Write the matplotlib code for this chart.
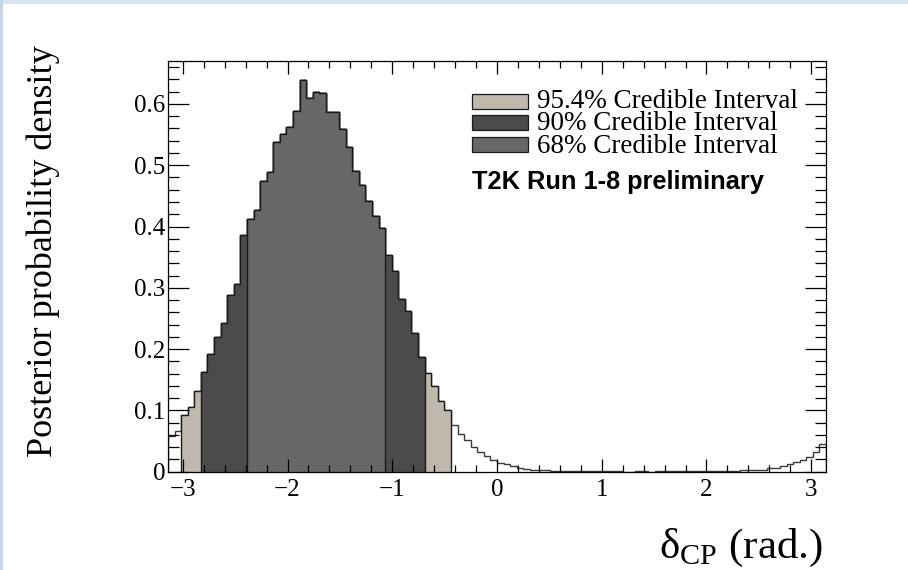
import numpy as np
import matplotlib
matplotlib.use('Agg')
import matplotlib.pyplot as plt
from matplotlib.patches import Rectangle
from matplotlib.ticker import FixedLocator, MultipleLocator

# Fonts: Times-like look
plt.rcParams['font.family'] = 'Liberation Serif'
plt.rcParams['mathtext.fontset'] = 'custom'
plt.rcParams['mathtext.rm'] = 'Liberation Serif'

# --- data: posterior density of delta_CP, 100 bins on [-pi, pi] ---
n_bins = 100
density = [
    0.058, 0.067, 0.092, 0.106, 0.131, 0.163, 0.192, 0.220, 0.242, 0.289,
    0.307, 0.386, 0.413, 0.427, 0.475, 0.489, 0.538, 0.551, 0.563, 0.588,
    0.639, 0.610, 0.619, 0.617, 0.586, 0.586, 0.559, 0.530, 0.490, 0.468,
    0.442, 0.417, 0.397, 0.353, 0.328, 0.282, 0.262, 0.226, 0.187, 0.161,
    0.139, 0.115, 0.100, 0.076, 0.062, 0.052, 0.041, 0.032, 0.025, 0.019,
    0.015, 0.012, 0.009, 0.0065, 0.0045, 0.003, 0.0028, 0.002, 0.0015, 0.001,
    0.001, 0.001, 0.001, 0.001, 0.001, 0.001, 0.001, 0.001, 0.001, 0.0,
    0.0, 0.0008, 0.0008, 0.0, 0.0008, 0.0008, 0.001, 0.001, 0.001, 0.001,
    0.001, 0.001, 0.0012, 0.0012, 0.0015, 0.0015, 0.0015, 0.0033, 0.0025, 0.0033,
    0.0035, 0.0055, 0.0068, 0.010, 0.0125, 0.0165, 0.019, 0.024, 0.032, 0.046,
]

# credible intervals as bin index ranges [first, last+1)
interval_labels = ['95.4% Credible Interval', '90% Credible Interval', '68% Credible Interval']
interval_bins = [(2, 43), (5, 39), (12, 33)]
interval_colors = ['#c1b8ad', '#4b4b4b', '#676767']

x_ticks = [-3, -2, -1, 0, 1, 2, 3]
y_ticks = [0, 0.1, 0.2, 0.3, 0.4, 0.5, 0.6]
y_tick_labels = ['0', '0.1', '0.2', '0.3', '0.4', '0.5', '0.6']

W, H = 908, 570


def px(x, y):
    # pixel position -> figure fraction
    return x / W, 1 - y / H


fig = plt.figure(figsize=(W / 100, H / 100), dpi=100)

# light blue strips left over from the slide
fig.add_artist(Rectangle((0, 1 - 4 / H), 1, 4 / H, transform=fig.transFigure,
                         facecolor='#d6e5f6', edgecolor='none'))
fig.add_artist(Rectangle((0, 0), 3 / W, 1, transform=fig.transFigure,
                         facecolor='#c3d8ee', edgecolor='none'))

ax = fig.add_axes([168 / W, 1 - 471.7 / H, (826 - 168) / W, (471.7 - 61) / H])

edges = np.linspace(-np.pi, np.pi, n_bins + 1)
dens = np.array(density)

# full posterior, unfilled
ax.stairs(dens, edges, fill=True, facecolor='white', edgecolor='#3a3a3a', lw=1.0)

# filled credible regions, widest first
for (a, b), c in zip(interval_bins, interval_colors):
    ax.stairs(dens[a:b], edges[a:b + 1], fill=True, facecolor=c,
              edgecolor='#1a1a1a', lw=1.0)

ax.set_xlim(-np.pi, np.pi)
ax.set_ylim(0, 0.67)

ax.xaxis.set_major_locator(FixedLocator(x_ticks))
ax.xaxis.set_minor_locator(MultipleLocator(0.2))
ax.yaxis.set_major_locator(FixedLocator(y_ticks))
ax.yaxis.set_minor_locator(MultipleLocator(0.02))
ax.set_yticklabels(y_tick_labels)

ax.tick_params(axis='both', which='both', direction='in', top=True, right=True,
               width=0.9, labelsize=18)
ax.tick_params(axis='x', which='major', length=9.5, pad=5)
ax.tick_params(axis='x', which='minor', length=5)
ax.tick_params(axis='y', which='major', length=15, pad=2)
ax.tick_params(axis='y', which='minor', length=8)
for s in ax.spines.values():
    s.set_linewidth(0.9)

# axis titles, ROOT style: near the end of the axis
fig.text(*px(823, 558), r'δ$_{\mathrm{CP}}$ (rad.)', ha='right', va='baseline',
         fontsize=31)
fig.text(*px(52, 45), 'Posterior probability density', rotation=90,
         rotation_mode='anchor', ha='right', va='baseline', fontsize=26)

# legend drawn by hand: boxes + one block of labels
row_base = [110, 131.5, 153]
for c, yb in zip(interval_colors, row_base):
    x0, y0 = px(472, yb - 1)
    fig.add_artist(Rectangle((x0, y0), 56 / W, 15 / H, transform=fig.transFigure,
                             facecolor=c, edgecolor='#1a1a1a', lw=0.9))
# multi-line text: 'baseline' anchors the last row
fig.text(*px(537, row_base[-1]), '\n'.join(interval_labels), ha='left',
         va='baseline', fontsize=19.5, linespacing=0.88)

fig.text(*px(472, 189.5), 'T2K Run 1-8 preliminary', ha='left', va='baseline',
         fontsize=18.3, fontweight='bold', family='Liberation Sans')

fig.savefig('out.png', dpi=100)
